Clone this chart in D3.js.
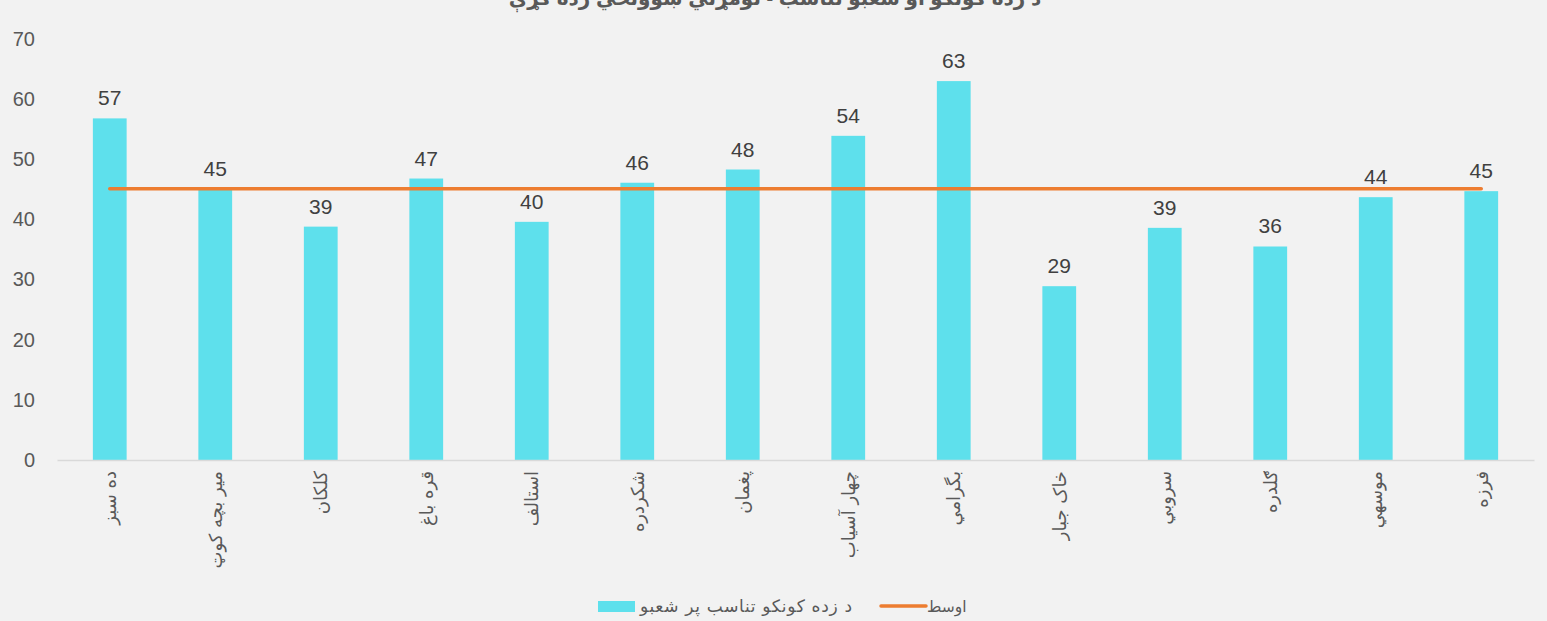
<!DOCTYPE html>
<html>
<head>
<meta charset="utf-8">
<script src="https://cdn.jsdelivr.net/npm/d3@7"></script>
<style>
  body { margin: 0; background: #f2f2f2; }
  svg { display: block; font-family: "Liberation Sans", Arial, "DejaVu Sans", sans-serif; }
</style>
</head>
<body>
<div id="chart-area"></div>
<script>
// data
var districts = ["ده سبز", "میر بچه کوټ", "کلکان", "قره باغ", "استالف", "شکردره", "پغمان",
    "چهار آسیاب", "بگرامي", "خاک جبار", "سروبي", "ګلدره", "موسهي", "فرزه"];
var ratio = [56.8, 45.0, 38.8, 46.8, 39.6, 46.1, 48.3, 53.9, 63.0, 28.9, 38.6, 35.5, 43.7, 44.7];
var average = [45.1, 45.1, 45.1, 45.1, 45.1, 45.1, 45.1, 45.1, 45.1, 45.1, 45.1, 45.1, 45.1, 45.1];
var yTicks = [0, 10, 20, 30, 40, 50, 60, 70];
var barName = "د زده کونکو تناسب پر شعبو";
var lineName = "اوسط";
var title = "د زده کونکو او شعبو تناسب - لومړني ښوونځي زده کړې";

var W = 1547, H = 621;
var margin = {left: 57, right: 13, top: 39, bottom: 161};
var width = W - margin.left - margin.right;
var height = H - margin.top - margin.bottom;

var svg = d3.select("#chart-area")
    .append("svg")
        .attr("width", W)
        .attr("height", H);

svg.append("rect").attr("width", W).attr("height", H).attr("fill", "#f2f2f2");

// title sits mostly above the top edge, as in the source
svg.append("text")
    .attr("x", 775)
    .attr("y", 5)
    .attr("text-anchor", "middle")
    .attr("font-size", "20px")
    .attr("font-weight", "bold")
    .attr("fill", "#595959")
    .text(title);

var g = svg.append("g")
    .attr("transform", "translate(" + margin.left + "," + margin.top + ")");

var x = d3.scaleBand()
    .domain(districts)
    .range([0, width])
    .paddingInner(0.68)
    .paddingOuter(0.34);

var y = d3.scaleLinear()
    .domain([0, 70])
    .range([height, 0]);

// y axis (no line)
var yAxis = g.append("g")
    .call(d3.axisLeft(y).tickValues(yTicks).tickSize(0).tickPadding(22));
yAxis.select(".domain").remove();
yAxis.selectAll("text")
    .attr("font-size", "20px")
    .attr("fill", "#595959")
    .attr("font-family", "Liberation Sans, Arial, sans-serif");

// bars
g.selectAll("rect.bar")
    .data(ratio)
    .enter()
    .append("rect")
        .attr("class", "bar")
        .attr("x", function(d, i){ return x(districts[i]); })
        .attr("y", function(d){ return y(d); })
        .attr("width", x.bandwidth())
        .attr("height", function(d){ return height - y(d); })
        .attr("fill", "#5ee0ec");

// x axis
var xAxis = g.append("g")
    .attr("transform", "translate(0," + height + ")")
    .call(d3.axisBottom(x).tickSize(0).tickPadding(0));
xAxis.select(".domain").attr("stroke", "#d9d9d9").attr("stroke-width", 1.5);
xAxis.selectAll("text")
    .attr("font-size", "18px")
    .attr("font-family", "DejaVu Sans, sans-serif")
    .attr("fill", "#595959")
    .attr("text-anchor", "end")
    .attr("dy", "0.35em")
    .attr("transform", "translate(0,11) rotate(-90)");

// average line
var line = d3.line()
    .x(function(d, i){ return x(districts[i]) + x.bandwidth() / 2; })
    .y(function(d){ return y(d); });

g.append("path")
    .datum(average)
    .attr("d", line)
    .attr("fill", "none")
    .attr("stroke", "#ed7d31")
    .attr("stroke-width", 3.5)
    .attr("stroke-linecap", "round");

// value labels
g.selectAll("text.val")
    .data(ratio)
    .enter()
    .append("text")
        .attr("class", "val")
        .attr("x", function(d, i){ return x(districts[i]) + x.bandwidth() / 2; })
        .attr("y", function(d){ return y(d) - 13; })
        .attr("text-anchor", "middle")
        .attr("font-size", "21px")
        .attr("fill", "#404040")
        .text(function(d){ return Math.round(d); });

// legend
var legend = svg.append("g").attr("font-family", "DejaVu Sans, sans-serif");
legend.append("rect")
    .attr("x", 598).attr("y", 601)
    .attr("width", 37).attr("height", 11)
    .attr("fill", "#5ee0ec");
legend.append("text")
    .attr("x", 640).attr("y", 612)
    .attr("font-size", "17px")
    .attr("fill", "#595959")
    .attr("textLength", 212)
    .attr("lengthAdjust", "spacing")
    .text(barName);
legend.append("line")
    .attr("x1", 881).attr("x2", 926)
    .attr("y1", 606).attr("y2", 606)
    .attr("stroke", "#ed7d31")
    .attr("stroke-width", 3.5)
    .attr("stroke-linecap", "round");
legend.append("text")
    .attr("x", 927).attr("y", 612)
    .attr("font-size", "15.5px")
    .attr("fill", "#595959")
    .text(lineName);
</script>
</body>
</html>
